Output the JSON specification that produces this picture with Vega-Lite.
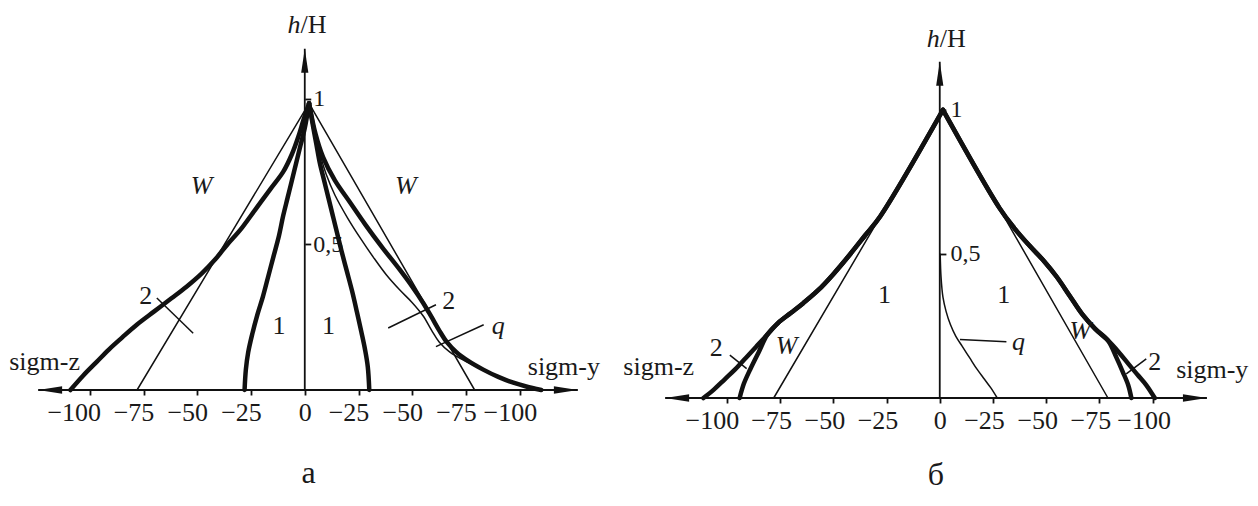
{
  "$schema": "https://vega.github.io/schema/vega-lite/v6.json",
  "background": "white",
  "padding": {"left": 9, "top": 11, "right": 5, "bottom": 5},
  "bounds": "flush",
  "spacing": 83,
  "config": {"view": {"stroke": null}, "font": "Liberation Serif"},
  "datasets": {
    "axes": [
      {"panel": "a", "x": -124, "h": 0, "x2": 127, "h2": 0},
      {"panel": "a", "x": 0, "h": 0, "x2": 0, "h2": 1.172},
      {"panel": "б", "x": -129, "h": 0, "x2": 125.5, "h2": 0},
      {"panel": "б", "x": 0, "h": 0, "x2": 0, "h2": 1.167}
    ],
    "arrows": [
      {"panel": "a", "dir": "left", "x": -124, "h": 0},
      {"panel": "a", "dir": "right", "x": 127, "h": 0},
      {"panel": "a", "dir": "up", "x": 0, "h": 1.172},
      {"panel": "б", "dir": "left", "x": -129, "h": 0},
      {"panel": "б", "dir": "right", "x": 125.5, "h": 0},
      {"panel": "б", "dir": "up", "x": 0, "h": 1.167}
    ],
    "curves": [
      {"panel": "a", "curve": "2", "side": "z", "x": 2, "h": 0.985},
      {"panel": "a", "curve": "2", "side": "z", "x": -0.5, "h": 0.93},
      {"panel": "a", "curve": "2", "side": "z", "x": -3, "h": 0.87},
      {"panel": "a", "curve": "2", "side": "z", "x": -6, "h": 0.81},
      {"panel": "a", "curve": "2", "side": "z", "x": -10, "h": 0.75},
      {"panel": "a", "curve": "2", "side": "z", "x": -16, "h": 0.69},
      {"panel": "a", "curve": "2", "side": "z", "x": -23, "h": 0.62},
      {"panel": "a", "curve": "2", "side": "z", "x": -30, "h": 0.55},
      {"panel": "a", "curve": "2", "side": "z", "x": -36, "h": 0.5},
      {"panel": "a", "curve": "2", "side": "z", "x": -41.5, "h": 0.45},
      {"panel": "a", "curve": "2", "side": "z", "x": -48, "h": 0.4},
      {"panel": "a", "curve": "2", "side": "z", "x": -55, "h": 0.355},
      {"panel": "a", "curve": "2", "side": "z", "x": -62, "h": 0.315},
      {"panel": "a", "curve": "2", "side": "z", "x": -70, "h": 0.27},
      {"panel": "a", "curve": "2", "side": "z", "x": -78, "h": 0.225},
      {"panel": "a", "curve": "2", "side": "z", "x": -85, "h": 0.18},
      {"panel": "a", "curve": "2", "side": "z", "x": -91, "h": 0.14},
      {"panel": "a", "curve": "2", "side": "z", "x": -97, "h": 0.095},
      {"panel": "a", "curve": "2", "side": "z", "x": -103, "h": 0.05},
      {"panel": "a", "curve": "2", "side": "z", "x": -109, "h": 0},

      {"panel": "a", "curve": "1", "side": "z", "x": 2, "h": 0.985},
      {"panel": "a", "curve": "1", "side": "z", "x": 0, "h": 0.9},
      {"panel": "a", "curve": "1", "side": "z", "x": -2, "h": 0.84},
      {"panel": "a", "curve": "1", "side": "z", "x": -4, "h": 0.78},
      {"panel": "a", "curve": "1", "side": "z", "x": -6, "h": 0.72},
      {"panel": "a", "curve": "1", "side": "z", "x": -8, "h": 0.66},
      {"panel": "a", "curve": "1", "side": "z", "x": -10, "h": 0.6},
      {"panel": "a", "curve": "1", "side": "z", "x": -12, "h": 0.53},
      {"panel": "a", "curve": "1", "side": "z", "x": -14.5, "h": 0.46},
      {"panel": "a", "curve": "1", "side": "z", "x": -17, "h": 0.39},
      {"panel": "a", "curve": "1", "side": "z", "x": -19.5, "h": 0.32},
      {"panel": "a", "curve": "1", "side": "z", "x": -22, "h": 0.26},
      {"panel": "a", "curve": "1", "side": "z", "x": -24.5, "h": 0.19},
      {"panel": "a", "curve": "1", "side": "z", "x": -26.3, "h": 0.13},
      {"panel": "a", "curve": "1", "side": "z", "x": -27.4, "h": 0.07},
      {"panel": "a", "curve": "1", "side": "z", "x": -28, "h": 0},

      {"panel": "a", "curve": "1", "side": "y", "x": 2, "h": 0.985},
      {"panel": "a", "curve": "1", "side": "y", "x": 4, "h": 0.9},
      {"panel": "a", "curve": "1", "side": "y", "x": 5.5, "h": 0.84},
      {"panel": "a", "curve": "1", "side": "y", "x": 7, "h": 0.78},
      {"panel": "a", "curve": "1", "side": "y", "x": 9, "h": 0.72},
      {"panel": "a", "curve": "1", "side": "y", "x": 11, "h": 0.66},
      {"panel": "a", "curve": "1", "side": "y", "x": 13, "h": 0.6},
      {"panel": "a", "curve": "1", "side": "y", "x": 15, "h": 0.54},
      {"panel": "a", "curve": "1", "side": "y", "x": 17, "h": 0.48},
      {"panel": "a", "curve": "1", "side": "y", "x": 19.5, "h": 0.41},
      {"panel": "a", "curve": "1", "side": "y", "x": 22, "h": 0.34},
      {"panel": "a", "curve": "1", "side": "y", "x": 24.2, "h": 0.27},
      {"panel": "a", "curve": "1", "side": "y", "x": 26.3, "h": 0.2},
      {"panel": "a", "curve": "1", "side": "y", "x": 28, "h": 0.14},
      {"panel": "a", "curve": "1", "side": "y", "x": 29.3, "h": 0.08},
      {"panel": "a", "curve": "1", "side": "y", "x": 30, "h": 0},

      {"panel": "a", "curve": "2", "side": "y", "x": 2, "h": 0.985},
      {"panel": "a", "curve": "2", "side": "y", "x": 5, "h": 0.88},
      {"panel": "a", "curve": "2", "side": "y", "x": 8.5, "h": 0.8},
      {"panel": "a", "curve": "2", "side": "y", "x": 14, "h": 0.72},
      {"panel": "a", "curve": "2", "side": "y", "x": 21, "h": 0.645},
      {"panel": "a", "curve": "2", "side": "y", "x": 28, "h": 0.57},
      {"panel": "a", "curve": "2", "side": "y", "x": 36, "h": 0.49},
      {"panel": "a", "curve": "2", "side": "y", "x": 44, "h": 0.415},
      {"panel": "a", "curve": "2", "side": "y", "x": 50, "h": 0.355},
      {"panel": "a", "curve": "2", "side": "y", "x": 55, "h": 0.3},
      {"panel": "a", "curve": "2", "side": "y", "x": 59, "h": 0.25},
      {"panel": "a", "curve": "2", "side": "y", "x": 62.5, "h": 0.205},
      {"panel": "a", "curve": "2", "side": "y", "x": 66, "h": 0.165},
      {"panel": "a", "curve": "2", "side": "y", "x": 70.5, "h": 0.13},
      {"panel": "a", "curve": "2", "side": "y", "x": 76, "h": 0.1},
      {"panel": "a", "curve": "2", "side": "y", "x": 83, "h": 0.07},
      {"panel": "a", "curve": "2", "side": "y", "x": 90, "h": 0.045},
      {"panel": "a", "curve": "2", "side": "y", "x": 97, "h": 0.025},
      {"panel": "a", "curve": "2", "side": "y", "x": 103, "h": 0.012},
      {"panel": "a", "curve": "2", "side": "y", "x": 110, "h": 0},

      {"panel": "a", "curve": "W", "side": "z", "x": 2, "h": 0.985},
      {"panel": "a", "curve": "W", "side": "z", "x": -78, "h": 0},
      {"panel": "a", "curve": "W", "side": "y", "x": 2, "h": 0.985},
      {"panel": "a", "curve": "W", "side": "y", "x": 79, "h": 0},

      {"panel": "a", "curve": "q", "side": "y", "x": 5, "h": 0.88},
      {"panel": "a", "curve": "q", "side": "y", "x": 7.5, "h": 0.8},
      {"panel": "a", "curve": "q", "side": "y", "x": 10, "h": 0.74},
      {"panel": "a", "curve": "q", "side": "y", "x": 14, "h": 0.67},
      {"panel": "a", "curve": "q", "side": "y", "x": 20, "h": 0.59},
      {"panel": "a", "curve": "q", "side": "y", "x": 26, "h": 0.52},
      {"panel": "a", "curve": "q", "side": "y", "x": 32, "h": 0.455},
      {"panel": "a", "curve": "q", "side": "y", "x": 38, "h": 0.395},
      {"panel": "a", "curve": "q", "side": "y", "x": 44, "h": 0.345},
      {"panel": "a", "curve": "q", "side": "y", "x": 50, "h": 0.3},
      {"panel": "a", "curve": "q", "side": "y", "x": 55, "h": 0.255},
      {"panel": "a", "curve": "q", "side": "y", "x": 59, "h": 0.205},
      {"panel": "a", "curve": "q", "side": "y", "x": 62.5, "h": 0.165},
      {"panel": "a", "curve": "q", "side": "y", "x": 67.5, "h": 0.13},
      {"panel": "a", "curve": "q", "side": "y", "x": 75, "h": 0.098},
      {"panel": "a", "curve": "q", "side": "y", "x": 83, "h": 0.07},
      {"panel": "a", "curve": "q", "side": "y", "x": 90, "h": 0.045},
      {"panel": "a", "curve": "q", "side": "y", "x": 97, "h": 0.025},
      {"panel": "a", "curve": "q", "side": "y", "x": 103, "h": 0.012},
      {"panel": "a", "curve": "q", "side": "y", "x": 110, "h": 0},

      {"panel": "б", "curve": "W", "side": "z", "x": 1.5, "h": 1.0},
      {"panel": "б", "curve": "W", "side": "z", "x": -78, "h": 0},
      {"panel": "б", "curve": "W", "side": "y", "x": 1.5, "h": 1.0},
      {"panel": "б", "curve": "W", "side": "y", "x": 79, "h": 0},

      {"panel": "б", "curve": "2", "side": "z", "x": 1.5, "h": 1.0},
      {"panel": "б", "curve": "2", "side": "z", "x": -28, "h": 0.63},
      {"panel": "б", "curve": "2", "side": "z", "x": -35, "h": 0.565},
      {"panel": "б", "curve": "2", "side": "z", "x": -42, "h": 0.5},
      {"panel": "б", "curve": "2", "side": "z", "x": -50, "h": 0.43},
      {"panel": "б", "curve": "2", "side": "z", "x": -57, "h": 0.375},
      {"panel": "б", "curve": "2", "side": "z", "x": -64, "h": 0.33},
      {"panel": "б", "curve": "2", "side": "z", "x": -70, "h": 0.295},
      {"panel": "б", "curve": "2", "side": "z", "x": -76, "h": 0.26},
      {"panel": "б", "curve": "2", "side": "z", "x": -81, "h": 0.22},
      {"panel": "б", "curve": "2", "side": "z", "x": -86, "h": 0.18},
      {"panel": "б", "curve": "2", "side": "z", "x": -91, "h": 0.14},
      {"panel": "б", "curve": "2", "side": "z", "x": -96, "h": 0.1},
      {"panel": "б", "curve": "2", "side": "z", "x": -101, "h": 0.065},
      {"panel": "б", "curve": "2", "side": "z", "x": -106, "h": 0.03},
      {"panel": "б", "curve": "2", "side": "z", "x": -111, "h": 0},

      {"panel": "б", "curve": "1", "side": "z", "x": 1.5, "h": 1.0},
      {"panel": "б", "curve": "1", "side": "z", "x": -28, "h": 0.63},
      {"panel": "б", "curve": "1", "side": "z", "x": -35, "h": 0.565},
      {"panel": "б", "curve": "1", "side": "z", "x": -42, "h": 0.5},
      {"panel": "б", "curve": "1", "side": "z", "x": -50, "h": 0.43},
      {"panel": "б", "curve": "1", "side": "z", "x": -57, "h": 0.375},
      {"panel": "б", "curve": "1", "side": "z", "x": -64, "h": 0.33},
      {"panel": "б", "curve": "1", "side": "z", "x": -70, "h": 0.295},
      {"panel": "б", "curve": "1", "side": "z", "x": -76, "h": 0.26},
      {"panel": "б", "curve": "1", "side": "z", "x": -81, "h": 0.22},
      {"panel": "б", "curve": "1", "side": "z", "x": -85, "h": 0.16},
      {"panel": "б", "curve": "1", "side": "z", "x": -89, "h": 0.1},
      {"panel": "б", "curve": "1", "side": "z", "x": -92, "h": 0.05},
      {"panel": "б", "curve": "1", "side": "z", "x": -94, "h": 0},

      {"panel": "б", "curve": "2", "side": "y", "x": 1.5, "h": 1.0},
      {"panel": "б", "curve": "2", "side": "y", "x": 28, "h": 0.66},
      {"panel": "б", "curve": "2", "side": "y", "x": 35, "h": 0.59},
      {"panel": "б", "curve": "2", "side": "y", "x": 42, "h": 0.53},
      {"panel": "б", "curve": "2", "side": "y", "x": 49, "h": 0.475},
      {"panel": "б", "curve": "2", "side": "y", "x": 55, "h": 0.42},
      {"panel": "б", "curve": "2", "side": "y", "x": 61, "h": 0.355},
      {"panel": "б", "curve": "2", "side": "y", "x": 67, "h": 0.29},
      {"panel": "б", "curve": "2", "side": "y", "x": 73, "h": 0.24},
      {"panel": "б", "curve": "2", "side": "y", "x": 79, "h": 0.2},
      {"panel": "б", "curve": "2", "side": "y", "x": 84, "h": 0.16},
      {"panel": "б", "curve": "2", "side": "y", "x": 89, "h": 0.115},
      {"panel": "б", "curve": "2", "side": "y", "x": 93, "h": 0.08},
      {"panel": "б", "curve": "2", "side": "y", "x": 97, "h": 0.045},
      {"panel": "б", "curve": "2", "side": "y", "x": 101, "h": 0},

      {"panel": "б", "curve": "1", "side": "y", "x": 1.5, "h": 1.0},
      {"panel": "б", "curve": "1", "side": "y", "x": 28, "h": 0.66},
      {"panel": "б", "curve": "1", "side": "y", "x": 35, "h": 0.59},
      {"panel": "б", "curve": "1", "side": "y", "x": 42, "h": 0.53},
      {"panel": "б", "curve": "1", "side": "y", "x": 49, "h": 0.475},
      {"panel": "б", "curve": "1", "side": "y", "x": 55, "h": 0.42},
      {"panel": "б", "curve": "1", "side": "y", "x": 61, "h": 0.355},
      {"panel": "б", "curve": "1", "side": "y", "x": 67, "h": 0.29},
      {"panel": "б", "curve": "1", "side": "y", "x": 73, "h": 0.24},
      {"panel": "б", "curve": "1", "side": "y", "x": 79, "h": 0.2},
      {"panel": "б", "curve": "1", "side": "y", "x": 83, "h": 0.14},
      {"panel": "б", "curve": "1", "side": "y", "x": 86, "h": 0.09},
      {"panel": "б", "curve": "1", "side": "y", "x": 88.5, "h": 0.045},
      {"panel": "б", "curve": "1", "side": "y", "x": 90, "h": 0},

      {"panel": "б", "curve": "q", "side": "y", "x": 0.2, "h": 0.5},
      {"panel": "б", "curve": "q", "side": "y", "x": 0.6, "h": 0.42},
      {"panel": "б", "curve": "q", "side": "y", "x": 1.5, "h": 0.35},
      {"panel": "б", "curve": "q", "side": "y", "x": 3, "h": 0.3},
      {"panel": "б", "curve": "q", "side": "y", "x": 5, "h": 0.255},
      {"panel": "б", "curve": "q", "side": "y", "x": 7.5, "h": 0.215},
      {"panel": "б", "curve": "q", "side": "y", "x": 10.5, "h": 0.18},
      {"panel": "б", "curve": "q", "side": "y", "x": 14, "h": 0.14},
      {"panel": "б", "curve": "q", "side": "y", "x": 17.5, "h": 0.1},
      {"panel": "б", "curve": "q", "side": "y", "x": 21, "h": 0.065},
      {"panel": "б", "curve": "q", "side": "y", "x": 24, "h": 0.035},
      {"panel": "б", "curve": "q", "side": "y", "x": 27, "h": 0}
    ],
    "leaders": [
      {"panel": "a", "x": -68.8, "h": 0.316, "x2": -51.9, "h2": 0.195},
      {"panel": "a", "x": 38.8, "h": 0.213, "x2": 61, "h2": 0.293},
      {"panel": "a", "x": 61, "h": 0.149, "x2": 83.2, "h2": 0.224},
      {"panel": "б", "x": -98.6, "h": 0.149, "x2": -90.7, "h2": 0.102},
      {"panel": "б", "x": 87.6, "h": 0.084, "x2": 97, "h2": 0.136},
      {"panel": "б", "x": 9.5, "h": 0.203, "x2": 31.3, "h2": 0.195}
    ],
    "labels": [
      {"panel": "a", "text": "W", "x": -48, "h": 0.7},
      {"panel": "a", "text": "W", "x": 47, "h": 0.7},
      {"panel": "a", "text": "2", "x": -74, "h": 0.322},
      {"panel": "a", "text": "2", "x": 67, "h": 0.305},
      {"panel": "a", "text": "1", "x": -12, "h": 0.22},
      {"panel": "a", "text": "1", "x": 11, "h": 0.22},
      {"panel": "a", "text": "q", "x": 90, "h": 0.22},
      {"panel": "a", "text": "sigm-z", "x": -121, "h": 0.096},
      {"panel": "a", "text": "sigm-y", "x": 120.5, "h": 0.08},
      {"panel": "б", "text": "1", "x": -26, "h": 0.357},
      {"panel": "б", "text": "1", "x": 30, "h": 0.357},
      {"panel": "б", "text": "W", "x": -72, "h": 0.18},
      {"panel": "б", "text": "W", "x": 66, "h": 0.234},
      {"panel": "б", "text": "2", "x": -105, "h": 0.175},
      {"panel": "б", "text": "2", "x": 101, "h": 0.125},
      {"panel": "б", "text": "q", "x": 37, "h": 0.193},
      {"panel": "б", "text": "sigm-z", "x": -132, "h": 0.108},
      {"panel": "б", "text": "sigm-y", "x": 128, "h": 0.097}
    ],
    "hh": [
      {"panel": "a", "part": "h", "x": -2, "h": 1.255},
      {"panel": "a", "part": "/H", "x": -2, "h": 1.255},
      {"panel": "б", "part": "h", "x": 0, "h": 1.245},
      {"panel": "б", "part": "/H", "x": 0, "h": 1.245}
    ]
  },
  "hconcat": [
    {
      "width": 544,
      "height": 342,
      "encoding": {
        "x": {
          "field": "x", "type": "quantitative", "title": "a",
          "scale": {"domain": [-125, 128], "nice": false, "zero": false},
          "axis": {
            "values": [-100, -75, -50, -25, 0, 25, 50, 75, 100],
            "labelExpr": "datum.value == 0 ? '0' : '−' + abs(datum.value)",
            "domain": false, "grid": false, "tickSize": 5, "tickWidth": 1.8, "tickColor": "#111111",
            "labelFont": "Liberation Serif", "labelFontSize": 26, "labelColor": "#1a1a1a", "labelPadding": 4,
            "labelOffset": {"condition": [{"test": "datum.value == -100", "value": -16}, {"test": "datum.value != 0", "value": -10}], "value": 0},
            "labelFlush": false, "labelOverlap": false,
            "titleFont": "Liberation Serif", "titleFontSize": 32, "titleFontWeight": "normal", "titleColor": "#1a1a1a", "titlePadding": 32
          }
        },
        "y": {
          "field": "h", "type": "quantitative", "title": null,
          "scale": {"domain": [0, 1.175], "nice": false},
          "axis": {
            "orient": "right", "offset": -275.25, "values": [0.5, 1],
            "labelExpr": "datum.value == 1 ? '1' : '0,5'",
            "domain": false, "grid": false, "tickSize": 6, "tickWidth": 1.8, "tickColor": "#111111",
            "labelFont": "Liberation Serif", "labelFontSize": 24, "labelColor": "#1a1a1a", "labelPadding": 2
          }
        }
      },
      "layer": [
        {"data": {"name": "axes"}, "transform": [{"filter": "datum.panel == 'a'"}],
         "mark": {"type": "rule", "color": "#111111", "strokeWidth": 1.8},
         "encoding": {"x2": {"field": "x2"}, "y2": {"field": "h2"}}},
        {"data": {"name": "arrows"}, "transform": [{"filter": "datum.panel == 'a'"}],
         "mark": {"type": "point", "filled": true, "color": "#111111", "opacity": 1, "size": 576},
         "encoding": {"shape": {"field": "dir", "type": "nominal", "legend": null,
           "scale": {"domain": ["up", "left", "right"], "range": ["M0,0L-0.3,2L0.3,2Z", "M0,0L2,-0.32L2,0.32Z", "M0,0L-2,-0.32L-2,0.32Z"]}}}},
        {"data": {"name": "curves"}, "transform": [{"filter": "datum.panel == 'a' && (datum.curve == 'W' || datum.curve == 'q')"}],
         "mark": {"type": "line", "interpolate": "catmull-rom", "color": "#111111", "strokeWidth": 1.5, "strokeCap": "round", "strokeJoin": "round"},
         "encoding": {
           "detail": [{"field": "curve"}, {"field": "side"}],
           "order": {"field": "h", "type": "quantitative", "sort": "descending"}
         }},
        {"data": {"name": "curves"}, "transform": [{"filter": "datum.panel == 'a' && (datum.curve == '1' || datum.curve == '2')"}],
         "mark": {"type": "line", "interpolate": "catmull-rom", "color": "#111111", "strokeWidth": 4.5, "strokeCap": "round", "strokeJoin": "round"},
         "encoding": {
           "detail": [{"field": "curve"}, {"field": "side"}],
           "order": {"field": "h", "type": "quantitative", "sort": "descending"}
         }},
        {"data": {"name": "leaders"}, "transform": [{"filter": "datum.panel == 'a'"}],
         "mark": {"type": "rule", "color": "#111111", "strokeWidth": 1.5},
         "encoding": {"x2": {"field": "x2"}, "y2": {"field": "h2"}}},
        {"data": {"name": "labels"}, "transform": [{"filter": "datum.panel == 'a' && datum.text != 'W' && datum.text != 'q'"}],
         "mark": {"type": "text", "font": "Liberation Serif", "fontSize": 26, "color": "#1a1a1a", "baseline": "middle"},
         "encoding": {"text": {"field": "text"}}},
        {"data": {"name": "labels"}, "transform": [{"filter": "datum.panel == 'a' && (datum.text == 'W' || datum.text == 'q')"}],
         "mark": {"type": "text", "font": "Liberation Serif", "fontSize": 26, "fontStyle": "italic", "color": "#1a1a1a", "baseline": "middle"},
         "encoding": {"text": {"field": "text"}}},
        {"data": {"name": "hh"}, "transform": [{"filter": "datum.panel == 'a' && datum.part == 'h'"}],
         "mark": {"type": "text", "font": "Liberation Serif", "fontSize": 26, "fontStyle": "italic", "color": "#1a1a1a", "align": "right", "baseline": "middle"},
         "encoding": {"text": {"field": "part"}}},
        {"data": {"name": "hh"}, "transform": [{"filter": "datum.panel == 'a' && datum.part == '/H'"}],
         "mark": {"type": "text", "font": "Liberation Serif", "fontSize": 26, "color": "#1a1a1a", "align": "left", "baseline": "middle"},
         "encoding": {"text": {"field": "part"}}}
      ]
    },
    {
      "width": 545,
      "height": 350,
      "encoding": {
        "x": {
          "field": "x", "type": "quantitative", "title": "б",
          "scale": {"domain": [-130, 126], "nice": false, "zero": false},
          "axis": {
            "values": [-100, -75, -50, -25, 0, 25, 50, 75, 100],
            "labelExpr": "datum.value == 0 ? '0' : '−' + abs(datum.value)",
            "domain": false, "grid": false, "tickSize": 5, "tickWidth": 1.8, "tickColor": "#111111",
            "labelFont": "Liberation Serif", "labelFontSize": 26, "labelColor": "#1a1a1a", "labelPadding": 4,
            "labelOffset": {"condition": [{"test": "datum.value == -100", "value": -15}, {"test": "datum.value != 0", "value": -9}], "value": 0},
            "labelFlush": false, "labelOverlap": false,
            "titleFont": "Liberation Serif", "titleFontSize": 32, "titleFontWeight": "normal", "titleColor": "#1a1a1a", "titlePadding": 26
          }
        },
        "y": {
          "field": "h", "type": "quantitative", "title": null,
          "scale": {"domain": [0, 1.215], "nice": false},
          "axis": {
            "orient": "right", "offset": -268.1, "values": [0.5, 1],
            "labelExpr": "datum.value == 1 ? '1' : '0,5'",
            "domain": false, "grid": false, "tickSize": 6, "tickWidth": 1.8, "tickColor": "#111111",
            "labelFont": "Liberation Serif", "labelFontSize": 24, "labelColor": "#1a1a1a", "labelPadding": 4
          }
        }
      },
      "layer": [
        {"data": {"name": "axes"}, "transform": [{"filter": "datum.panel == 'б'"}],
         "mark": {"type": "rule", "color": "#111111", "strokeWidth": 1.8},
         "encoding": {"x2": {"field": "x2"}, "y2": {"field": "h2"}}},
        {"data": {"name": "arrows"}, "transform": [{"filter": "datum.panel == 'б'"}],
         "mark": {"type": "point", "filled": true, "color": "#111111", "opacity": 1, "size": 576},
         "encoding": {"shape": {"field": "dir", "type": "nominal", "legend": null,
           "scale": {"domain": ["up", "left", "right"], "range": ["M0,0L-0.3,2L0.3,2Z", "M0,0L2,-0.32L2,0.32Z", "M0,0L-2,-0.32L-2,0.32Z"]}}}},
        {"data": {"name": "curves"}, "transform": [{"filter": "datum.panel == 'б' && (datum.curve == 'W' || datum.curve == 'q')"}],
         "mark": {"type": "line", "interpolate": "catmull-rom", "color": "#111111", "strokeWidth": 1.5, "strokeCap": "round", "strokeJoin": "round"},
         "encoding": {
           "detail": [{"field": "curve"}, {"field": "side"}],
           "order": {"field": "h", "type": "quantitative", "sort": "descending"}
         }},
        {"data": {"name": "curves"}, "transform": [{"filter": "datum.panel == 'б' && (datum.curve == '1' || datum.curve == '2')"}],
         "mark": {"type": "line", "interpolate": "catmull-rom", "color": "#111111", "strokeWidth": 4.5, "strokeCap": "round", "strokeJoin": "round"},
         "encoding": {
           "detail": [{"field": "curve"}, {"field": "side"}],
           "order": {"field": "h", "type": "quantitative", "sort": "descending"}
         }},
        {"data": {"name": "leaders"}, "transform": [{"filter": "datum.panel == 'б'"}],
         "mark": {"type": "rule", "color": "#111111", "strokeWidth": 1.5},
         "encoding": {"x2": {"field": "x2"}, "y2": {"field": "h2"}}},
        {"data": {"name": "labels"}, "transform": [{"filter": "datum.panel == 'б' && datum.text != 'W' && datum.text != 'q'"}],
         "mark": {"type": "text", "font": "Liberation Serif", "fontSize": 26, "color": "#1a1a1a", "baseline": "middle"},
         "encoding": {"text": {"field": "text"}}},
        {"data": {"name": "labels"}, "transform": [{"filter": "datum.panel == 'б' && (datum.text == 'W' || datum.text == 'q')"}],
         "mark": {"type": "text", "font": "Liberation Serif", "fontSize": 26, "fontStyle": "italic", "color": "#1a1a1a", "baseline": "middle"},
         "encoding": {"text": {"field": "text"}}},
        {"data": {"name": "hh"}, "transform": [{"filter": "datum.panel == 'б' && datum.part == 'h'"}],
         "mark": {"type": "text", "font": "Liberation Serif", "fontSize": 26, "fontStyle": "italic", "color": "#1a1a1a", "align": "right", "baseline": "middle"},
         "encoding": {"text": {"field": "part"}}},
        {"data": {"name": "hh"}, "transform": [{"filter": "datum.panel == 'б' && datum.part == '/H'"}],
         "mark": {"type": "text", "font": "Liberation Serif", "fontSize": 26, "color": "#1a1a1a", "align": "left", "baseline": "middle"},
         "encoding": {"text": {"field": "part"}}}
      ]
    }
  ]
}
